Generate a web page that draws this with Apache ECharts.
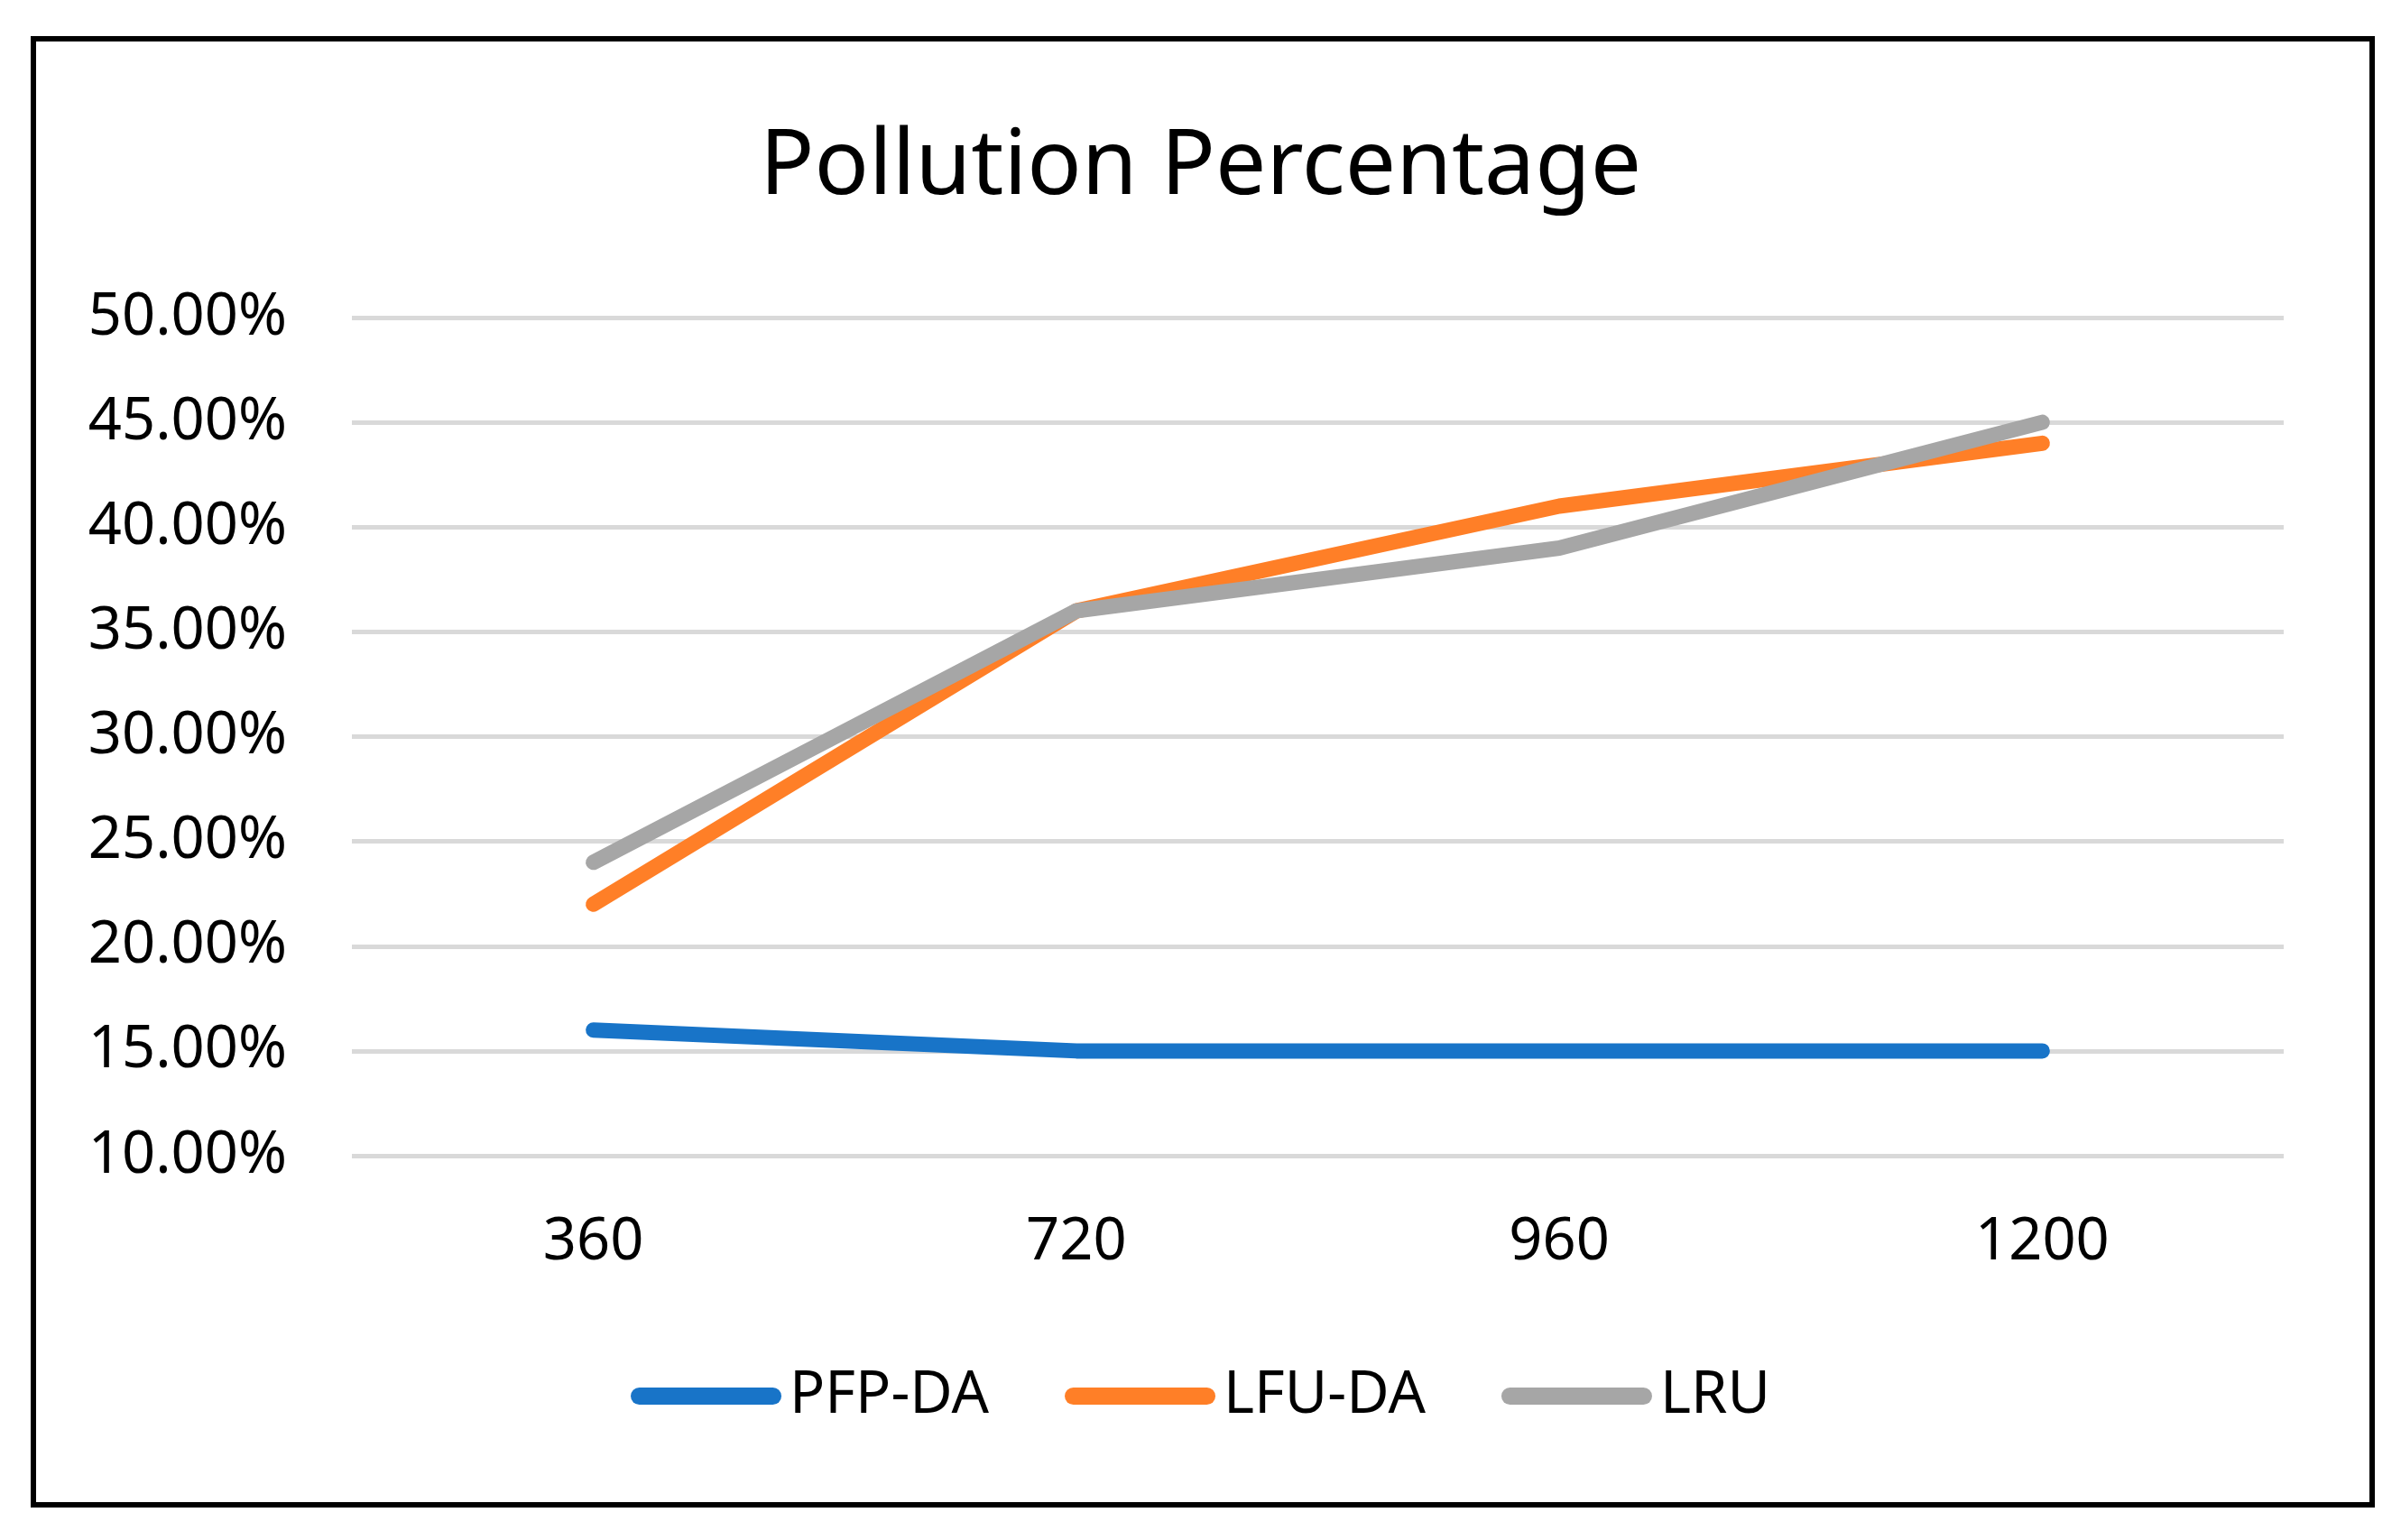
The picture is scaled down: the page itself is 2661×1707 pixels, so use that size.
<!DOCTYPE html>
<html>
<head>
<meta charset="utf-8">
<script src="https://cdn.jsdelivr.net/npm/echarts@6/dist/echarts.min.js"></script>
<style>
html,body{margin:0;padding:0;background:#fff;}
#c{width:2661px;height:1707px;}
</style>
</head>
<body>
<div id="c"></div>
<script>
const categories = ['360', '720', '960', '1200'];
const pfpDA = [16, 15, 15, 15];
const lfuDA = [22, 36, 41, 44];
const lru = [24, 36, 39, 45];
const seriesNames = ['PFP-DA', 'LFU-DA', 'LRU'];
const colors = ['#1874c8', '#ff7f27', '#a6a6a6'];

const FONT = 'Noto Sans';
const chart = echarts.init(document.getElementById('c'), null, {renderer: 'canvas'});
const legendIcon = 'path://M9.5,0 L157.5,0 A9.5,9.5 0 0 1 157.5,19 L9.5,19 A9.5,9.5 0 0 1 9.5,0 Z';

function mk(name, data, color) {
  return {
    name: name,
    type: 'line',
    data: data,
    symbol: 'none',
    showSymbol: false,
    smooth: false,
    lineStyle: {color: color, width: 17, cap: 'round', join: 'round'},
    itemStyle: {color: color},
    emphasis: {disabled: true},
    z: 3
  };
}

chart.setOption({
  backgroundColor: '#fff',
  animation: false,
  title: {
    text: 'Pollution Percentage',
    left: 'center',
    top: 132,
    textStyle: {fontFamily: FONT, fontSize: 100, fontWeight: 'normal', color: '#000'}
  },
  legend: {
    data: seriesNames.map((n, i) => ({name: n, icon: legendIcon, itemStyle: {color: colors[i]}})),
    bottom: 122,
    left: 'center',
    itemWidth: 167,
    itemHeight: 19,
    itemGap: 84,
    textStyle: {fontFamily: FONT, fontSize: 65, color: '#000', padding: [0, 0, 0, 4]}
  },
  grid: {left: 390, right: 130, top: 352, bottom: 1707 - 1281, containLabel: false},
  xAxis: {
    type: 'category',
    data: categories,
    boundaryGap: true,
    axisLine: {show: false},
    axisTick: {show: false},
    axisLabel: {fontFamily: FONT, fontSize: 65, color: '#000', margin: 64}
  },
  yAxis: {
    type: 'value',
    min: 10,
    max: 50,
    interval: 5,
    axisLine: {show: false},
    axisTick: {show: false},
    splitLine: {lineStyle: {color: '#d9d9d9', width: 5}},
    axisLabel: {
      fontFamily: FONT, fontSize: 65, color: '#000', margin: 72,
      formatter: v => v.toFixed(2) + '%'
    }
  },
  series: [mk(seriesNames[0], pfpDA, colors[0]), mk(seriesNames[1], lfuDA, colors[1]), mk(seriesNames[2], lru, colors[2])],
  graphic: [{
    type: 'rect',
    shape: {x: 37, y: 43, width: 2629 - 37, height: 1668 - 43},
    style: {fill: 'none', stroke: '#000', lineWidth: 6},
    z: 10
  }]
});
</script>
</body>
</html>
